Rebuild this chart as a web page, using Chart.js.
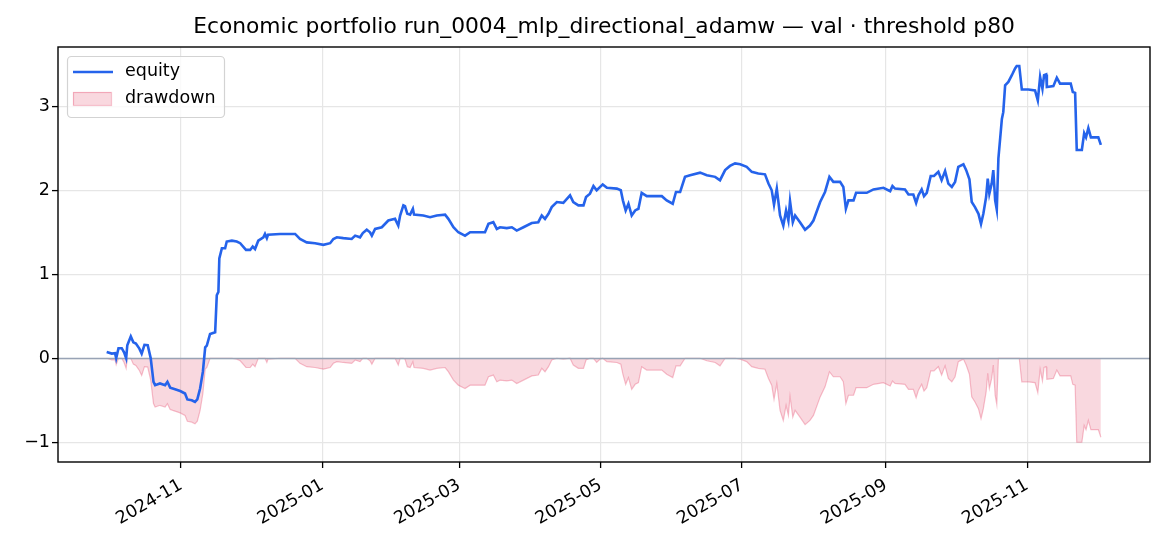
<!DOCTYPE html>
<html>
<head>
<meta charset="utf-8">
<script src="https://cdn.jsdelivr.net/npm/chart.js@4.4.1/dist/chart.umd.min.js"></script>
<style>
  html, body { margin: 0; padding: 0; background: #fff; }
  #wrap { width: 1170px; height: 546px; }
</style>
</head>
<body>
<div id="wrap"><canvas id="chart" width="1170" height="546"></canvas></div>
<script>
const TITLE = "Economic portfolio run_0004_mlp_directional_adamw — val · threshold p80";
const START_DATE = "2024-11-01";

// days since START_DATE
const dayOffsets = [
  -32.1, -29.9, -28.5, -28.0, -27.0, -25.6, -24.6, -23.7, -23.2, -21.7,
  -20.6, -19.5, -18.0, -17.0, -15.8, -14.4, -13.1, -11.9, -11.2, -9.1,
  -6.9, -5.9, -4.7, -2.6, -0.4, 1.7, 2.7, 4.6, 6.0, 7.0,
  8.2, 9.4, 10.4, 11.1, 12.5, 14.7, 15.4, 16.1, 16.5, 17.6,
  19.0, 19.7, 21.9, 24.0, 25.5, 28.0, 29.8, 30.9, 31.9, 33.3,
  35.5, 36.2, 37.0, 37.5, 42.7, 49.2, 51.3, 54.2, 57.8, 61.4,
  64.3, 65.7, 67.2, 70.0, 73.6, 75.1, 77.2, 78.4, 80.1, 81.5,
  82.3, 83.7, 86.6, 89.4, 92.3, 93.7, 94.5, 95.9, 96.6, 97.6,
  98.8, 100.0, 100.5, 104.5, 107.4, 110.3, 113.9, 115.3, 117.5, 119.6,
  121.8, 122.5, 124.7, 131.1, 132.6, 134.7, 136.2, 137.6, 140.5, 142.7,
  144.8, 147.7, 151.3, 154.1, 155.6, 157.0, 158.5, 159.9, 162.1, 164.9,
  167.8, 169.2, 171.4, 173.6, 174.7, 176.4, 177.9, 179.3, 180.8, 181.9,
  183.7, 188.0, 189.7, 190.6, 191.8, 193.0, 194.4, 195.9, 197.3, 198.7,
  200.9, 203.8, 207.4, 209.5, 212.1, 213.5, 215.3, 217.4, 219.6, 223.9,
  226.8, 230.4, 232.5, 234.7, 236.8, 239.0, 241.2, 244.0, 246.2, 249.0,
  251.9, 253.4, 254.8, 255.8, 257.0, 258.4, 259.8, 261.0, 262.0, 262.7,
  263.9, 264.9, 267.0, 269.2, 271.3, 272.8, 275.7, 277.8, 279.7, 281.4,
  284.3, 285.7, 286.8, 287.9, 290.1, 291.2, 295.8, 298.7, 303.0, 305.9,
  306.9, 308.0, 312.3, 313.8, 315.9, 317.1, 318.1, 319.5, 320.5, 321.7,
  323.4, 324.8, 326.7, 328.1, 329.6, 331.0, 332.5, 333.9, 335.3, 337.5,
  338.7, 340.1, 341.1, 342.5, 344.0, 345.1, 346.1, 347.3, 348.0, 348.7,
  349.7, 350.4, 351.2, 351.9, 352.6, 354.1, 354.7, 355.5, 356.9, 358.4,
  359.8, 360.5, 361.6, 362.7, 365.5, 368.4, 369.6, 370.6, 371.6, 372.3,
  373.2, 373.5, 376.3, 377.8, 379.2, 383.8, 384.7, 385.7, 386.4, 388.6,
  389.6, 390.4, 391.4, 392.5, 395.7, 396.8
];

const equity = [
  0.075, 0.056, 0.06, 0.0, 0.12, 0.12, 0.07, 0.0, 0.155, 0.26,
  0.19, 0.175, 0.115, 0.056, 0.16, 0.155, 0.0, -0.28, -0.32, -0.30,
  -0.32, -0.28, -0.35, -0.37, -0.39, -0.42, -0.49, -0.50, -0.52, -0.49,
  -0.36, -0.16, 0.13, 0.15, 0.29, 0.31, 0.75, 0.79, 1.19, 1.31,
  1.31, 1.39, 1.40, 1.39, 1.37, 1.29, 1.29, 1.33, 1.30, 1.40,
  1.44, 1.48, 1.43, 1.47, 1.48, 1.48, 1.42, 1.38, 1.37, 1.35,
  1.37, 1.42, 1.44, 1.43, 1.42, 1.46, 1.44, 1.49, 1.53, 1.50,
  1.46, 1.54, 1.56, 1.64, 1.66, 1.58, 1.70, 1.82, 1.81, 1.72,
  1.71, 1.78, 1.71, 1.70, 1.68, 1.70, 1.71, 1.66, 1.56, 1.50,
  1.47, 1.46, 1.50, 1.50, 1.60, 1.62, 1.54, 1.56, 1.55, 1.56,
  1.52, 1.56, 1.61, 1.62, 1.70, 1.66, 1.72, 1.80, 1.86, 1.85,
  1.94, 1.86, 1.82, 1.82, 1.92, 1.96, 2.05, 2.00, 2.04, 2.07,
  2.03, 2.02, 2.00, 1.88, 1.76, 1.84, 1.70, 1.76, 1.78, 1.97,
  1.93, 1.93, 1.93, 1.88, 1.84, 1.98, 1.98, 2.16, 2.18, 2.21,
  2.18, 2.16, 2.12, 2.24, 2.29, 2.32, 2.31, 2.28, 2.22, 2.20,
  2.19, 2.08, 2.00, 1.83, 2.02, 1.70, 1.58, 1.76, 1.64, 1.87,
  1.62, 1.70, 1.62, 1.53, 1.58, 1.64, 1.86, 1.98, 2.16, 2.10,
  2.10, 2.04, 1.78, 1.88, 1.88, 1.97, 1.97, 2.01, 2.03, 1.99,
  2.05, 2.02, 2.01, 1.95, 1.95, 1.85, 1.94, 2.01, 1.93, 1.97,
  2.17, 2.17, 2.22, 2.12, 2.23, 2.08, 2.04, 2.10, 2.28, 2.31,
  2.24, 2.13, 1.86, 1.80, 1.72, 1.60, 1.72, 1.92, 2.14, 1.96,
  2.08, 2.24, 1.88, 1.77, 2.38, 2.85, 2.93, 3.25, 3.29, 3.37,
  3.45, 3.48, 3.48, 3.20, 3.20, 3.19, 3.07, 3.35, 3.21, 3.37,
  3.38, 3.23, 3.24, 3.34, 3.27, 3.27, 3.17, 3.16, 2.48, 2.48,
  2.68, 2.63, 2.74, 2.63, 2.63, 2.54
];

const tickMonths = ["2024-11", "2025-01", "2025-03", "2025-05", "2025-07", "2025-09", "2025-11"];
const yTicks = [-1, 0, 1, 2, 3];

const EQUITY_COLOR = "#2563eb";
const DD_FILL = "rgba(232, 90, 120, 0.24)";
const DD_EDGE = "rgba(232, 90, 120, 0.38)";
const FONT = "'DejaVu Sans', sans-serif";

// drawdown = equity minus its running peak
let peak = -Infinity;
const drawdown = equity.map(v => {
  peak = Math.max(peak, v);
  return v - peak;
});

const DAY_MS = 86400000;
const startMs = Date.parse(START_DATE + "T00:00:00Z");
const tickOffsets = tickMonths.map(m => (Date.parse(m + "-01T00:00:00Z") - startMs) / DAY_MS);

const equityPts = dayOffsets.map((d, i) => ({ x: d, y: equity[i] }));
const ddPts = dayOffsets.map((d, i) => ({ x: d, y: drawdown[i] }));

const decorations = {
  id: "decorations",
  beforeDatasetDraw(chart, args) {
    if (args.index !== 0) return;
    const { ctx, chartArea, scales } = chart;
    const y0 = Math.round(scales.y.getPixelForValue(0)) + 0.5;
    ctx.save();
    ctx.strokeStyle = "#98a3b5";
    ctx.lineWidth = 1.3;
    ctx.beginPath();
    ctx.moveTo(chartArea.left, y0);
    ctx.lineTo(chartArea.right, y0);
    ctx.stroke();
    ctx.restore();
  },
  afterDraw(chart) {
    const { ctx, chartArea } = chart;
    ctx.save();

    // axes frame
    ctx.strokeStyle = "#000";
    ctx.lineWidth = 1.4;
    ctx.strokeRect(chartArea.left, chartArea.top, chartArea.right - chartArea.left, chartArea.bottom - chartArea.top);

    // title
    ctx.fillStyle = "#000";
    ctx.font = "21.8px " + FONT;
    ctx.textAlign = "center";
    ctx.textBaseline = "middle";
    ctx.fillText(TITLE, (chartArea.left + chartArea.right) / 2, 27);

    // legend box
    const lx = chartArea.left + 9, ly = chartArea.top + 9, lw = 157, lh = 61;
    ctx.beginPath();
    ctx.roundRect(lx + 0.5, ly + 0.5, lw, lh, 4);
    ctx.fillStyle = "rgba(255,255,255,0.8)";
    ctx.fill();
    ctx.strokeStyle = "#d3d3d3";
    ctx.lineWidth = 1.2;
    ctx.stroke();

    ctx.strokeStyle = EQUITY_COLOR;
    ctx.lineWidth = 2.6;
    ctx.beginPath();
    ctx.moveTo(lx + 6, ly + 16);
    ctx.lineTo(lx + 46, ly + 16);
    ctx.stroke();

    ctx.fillStyle = DD_FILL;
    ctx.fillRect(lx + 6, ly + 36, 38, 13);
    ctx.strokeStyle = DD_EDGE;
    ctx.lineWidth = 1.2;
    ctx.strokeRect(lx + 6.5, ly + 36.5, 38, 13);

    ctx.fillStyle = "#000";
    ctx.font = "17.5px " + FONT;
    ctx.textAlign = "left";
    ctx.textBaseline = "middle";
    ctx.fillText("equity", lx + 58, ly + 15);
    ctx.fillText("drawdown", lx + 58, ly + 42);

    ctx.restore();
  }
};

new Chart(document.getElementById("chart"), {
  type: "line",
  data: {
    datasets: [
      {
        label: "equity",
        data: equityPts,
        borderColor: EQUITY_COLOR,
        borderWidth: 2.6,
        pointRadius: 0,
        fill: false,
        tension: 0
      },
      {
        label: "drawdown",
        data: ddPts,
        borderColor: DD_EDGE,
        backgroundColor: DD_FILL,
        borderWidth: 1.2,
        pointRadius: 0,
        fill: "origin",
        tension: 0
      }
    ]
  },
  options: {
    responsive: false,
    animation: false,
    devicePixelRatio: 1,
    layout: { padding: { left: 0, right: 20, top: 47, bottom: 0 } },
    plugins: {
      legend: { display: false },
      title: { display: false },
      tooltip: { enabled: false }
    },
    scales: {
      x: {
        type: "linear",
        min: -53.1,
        max: 418.0,
        afterBuildTicks: scale => { scale.ticks = tickOffsets.map(v => ({ value: v })); },
        afterFit: scale => { scale.height = 84; },
        grid: { color: "#e6e6e6", lineWidth: 1.2, tickColor: "#000", tickLength: 6, tickWidth: 1.3 },
        border: { display: false },
        ticks: {
          color: "#000",
          font: { family: FONT, size: 17.5 },
          padding: 7,
          minRotation: 30,
          maxRotation: 30,
          autoSkip: false,
          callback: v => tickMonths[tickOffsets.indexOf(v)] ?? ""
        }
      },
      y: {
        type: "linear",
        min: -1.235,
        max: 3.706,
        afterBuildTicks: scale => { scale.ticks = yTicks.map(v => ({ value: v })); },
        afterFit: scale => { scale.width = 58; },
        grid: { color: "#e6e6e6", lineWidth: 1.2, tickColor: "#000", tickLength: 6, tickWidth: 1.3 },
        border: { display: false },
        ticks: {
          color: "#000",
          font: { family: FONT, size: 17.5 },
          padding: 2,
          callback: v => (v < 0 ? "\u2212" + Math.abs(v) : String(v))
        }
      }
    }
  },
  plugins: [decorations]
});
</script>
</body>
</html>
